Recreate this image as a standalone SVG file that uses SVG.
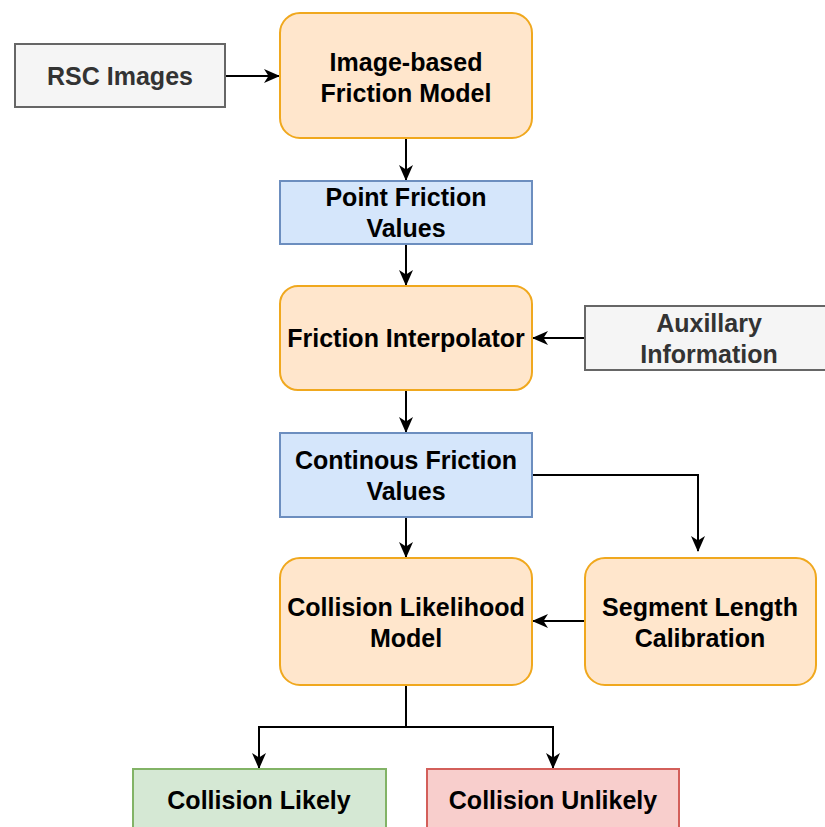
<svg xmlns="http://www.w3.org/2000/svg" width="825" height="827" viewBox="0 0 825 827">
<defs>
<marker id="arr" viewBox="0 0 16 16" refX="15" refY="8" markerWidth="16" markerHeight="16" markerUnits="userSpaceOnUse" orient="auto">
<path d="M0,1 L16,8 L0,15 L4.5,8 Z" fill="#000"/>
</marker>
</defs>
<style>
text{font-family:"Liberation Sans",Arial,sans-serif;font-weight:bold;font-size:25px;text-anchor:middle;fill:#000}
.org{fill:#ffe6cc;stroke:#f0a81e;stroke-width:2}
.blu{fill:#d5e6fb;stroke:#6c8ebf;stroke-width:2}
.gry{fill:#f5f5f5;stroke:#666;stroke-width:2}
.grn{fill:#d5e8d4;stroke:#82b366;stroke-width:2}
.red{fill:#f8cecc;stroke:#d35f5a;stroke-width:2}
.gt{fill:#333}
.con{fill:none;stroke:#000;stroke-width:2;marker-end:url(#arr)}
</style>
<rect width="825" height="827" fill="#fff"/>
<g id="connectors">
<path class="con" d="M225,76 L279,76"/>
<path class="con" d="M406,138 L406,180"/>
<path class="con" d="M406,244 L406,285"/>
<path class="con" d="M585,338 L533,338"/>
<path class="con" d="M406,390 L406,432"/>
<path class="con" d="M533,475 L698,475 L698,551"/>
<path class="con" d="M406,517 L406,557"/>
<path class="con" d="M585,621 L533,621"/>
<path class="con" d="M406,685 L406,727 L259,727 L259,768"/>
<path class="con" d="M406,727 L553,727 L553,768"/>
</g>
<g id="rsc">
<rect class="gry" x="15" y="44" width="210" height="63"/>
<text class="gt" x="120" y="85">RSC Images</text>
</g>
<g id="model">
<rect class="org" x="280" y="13" width="252" height="125" rx="20"/>
<text x="406" y="71">Image-based</text>
<text x="406" y="102">Friction Model</text>
</g>
<g id="point">
<rect class="blu" x="280" y="181" width="252" height="63"/>
<text x="406" y="206">Point Friction</text>
<text x="406" y="237">Values</text>
</g>
<g id="interp">
<rect class="org" x="280" y="286" width="252" height="104" rx="18"/>
<text x="406" y="347">Friction Interpolator</text>
</g>
<g id="aux">
<rect class="gry" x="585" y="306" width="250" height="64"/>
<text class="gt" x="709" y="332">Auxillary</text>
<text class="gt" x="709" y="363">Information</text>
</g>
<g id="cont">
<rect class="blu" x="280" y="433" width="252" height="84"/>
<text x="406" y="469">Continous Friction</text>
<text x="406" y="500">Values</text>
</g>
<g id="collision">
<rect class="org" x="280" y="558" width="252" height="127" rx="20"/>
<text x="406" y="616">Collision Likelihood</text>
<text x="406" y="647">Model</text>
</g>
<g id="segment">
<rect class="org" x="585" y="558" width="231" height="127" rx="20"/>
<text x="700" y="616">Segment Length</text>
<text x="700" y="647">Calibration</text>
</g>
<g id="likely">
<rect class="grn" x="133" y="769" width="253" height="70"/>
<text x="259" y="809">Collision Likely</text>
</g>
<g id="unlikely">
<rect class="red" x="427" y="769" width="252" height="70"/>
<text x="553" y="809">Collision Unlikely</text>
</g>
</svg>
